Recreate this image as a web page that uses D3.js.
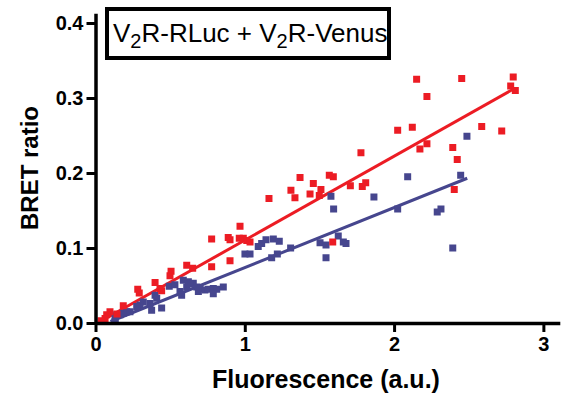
<!DOCTYPE html>
<html>
<head>
<meta charset="utf-8">
<script src="https://cdn.jsdelivr.net/npm/d3@7"></script>
<style>
  body { margin: 0; background: #fff; }
  svg { display: block; font-family: "Liberation Sans", Arial, sans-serif; }
</style>
</head>
<body>
<div class="container"></div>
<script>
// V2R-RLuc + V2R-Venus (red) [fluorescence, BRET]
const redPoints = [
  [2.453, 0.326], [2.798, 0.328], [2.781, 0.316], [2.812, 0.310], [2.587, 0.262],
  [2.721, 0.256], [2.393, 0.234], [2.423, 0.218], [2.403, 0.178], [2.151, 0.325],
  [2.220, 0.302], [2.024, 0.257], [2.122, 0.261], [2.173, 0.232], [2.220, 0.239],
  [1.778, 0.227], [1.566, 0.197], [1.593, 0.195], [1.707, 0.183], [1.787, 0.182],
  [1.810, 0.187], [1.589, 0.108], [1.370, 0.194], [1.459, 0.186], [1.309, 0.177],
  [1.336, 0.167], [1.437, 0.172], [1.510, 0.178], [1.499, 0.170], [1.162, 0.166],
  [0.968, 0.129], [0.778, 0.112], [0.889, 0.114], [0.901, 0.111], [0.963, 0.113],
  [0.990, 0.113], [1.013, 0.110], [1.035, 0.108], [0.901, 0.083], [0.778, 0.075],
  [0.611, 0.077], [0.651, 0.073], [0.506, 0.069], [0.499, 0.063], [0.399, 0.054],
  [0.432, 0.046], [0.443, 0.043], [0.283, 0.045], [0.293, 0.040], [0.186, 0.023],
  [0.097, 0.015], [0.064, 0.006], [0.075, 0.011], [0.037, 0.003], [0.144, 0.012]
];

// second series (blue)
const bluePoints = [
  [2.488, 0.249], [2.446, 0.197], [2.314, 0.152], [2.289, 0.148], [2.393, 0.100],
  [2.091, 0.195], [1.577, 0.169], [1.595, 0.152], [1.865, 0.168], [2.024, 0.152],
  [1.626, 0.116], [1.504, 0.107], [1.544, 0.104], [1.660, 0.108], [1.678, 0.106],
  [1.544, 0.087], [1.191, 0.112], [1.231, 0.109], [1.307, 0.100], [1.218, 0.092],
  [1.180, 0.087], [1.090, 0.102], [1.113, 0.106], [1.142, 0.111], [1.001, 0.092],
  [1.035, 0.092], [0.588, 0.057], [0.622, 0.055], [0.655, 0.053], [0.678, 0.048],
  [0.700, 0.046], [0.733, 0.044], [0.756, 0.045], [0.789, 0.046], [0.812, 0.045],
  [0.856, 0.048], [0.566, 0.042], [0.577, 0.037], [0.689, 0.042], [0.789, 0.039],
  [0.494, 0.049], [0.532, 0.051], [0.399, 0.037], [0.410, 0.033], [0.443, 0.020],
  [0.365, 0.026], [0.376, 0.017], [0.320, 0.028], [0.298, 0.024], [0.276, 0.022],
  [0.231, 0.015], [0.209, 0.015], [0.186, 0.013], [0.164, 0.011], [0.142, 0.011],
  [0.131, 0.006], [0.131, 0.002], [0.611, 0.048], [0.633, 0.052]
];

// fitted lines, end points
const redFit = [[0.05, 0.004], [2.80, 0.312]];
const blueFit = [[0.10, 0.002], [2.49, 0.193]];

const xTicks = [0, 1, 2, 3];
const yTicks = [0, 0.1, 0.2, 0.3, 0.4];

const width = 567;
const height = 397;

const svg = d3.select(".container").append("svg")
  .attr("width", width)
  .attr("height", height);

const x = d3.scaleLinear().domain([0, 3.11]).range([95.5, 559.8]);
const y = d3.scaleLinear().domain([0, 0.413]).range([323, 13.25]);

const red = "#ec1c24";
const blue = "#46468e";

// fit lines
const line = d3.line().x(d => x(d[0])).y(d => y(d[1]));
svg.append("path").datum(redFit)
  .attr("fill", "none").attr("stroke", red).attr("stroke-width", 3).attr("d", line);
svg.append("path").datum(blueFit)
  .attr("fill", "none").attr("stroke", blue).attr("stroke-width", 3).attr("d", line);

const size = 7;
svg.append("g").selectAll("rect")
  .data(bluePoints).enter().append("rect")
  .attr("x", d => x(d[0]) - size / 2)
  .attr("y", d => y(d[1]) - size / 2)
  .attr("width", size).attr("height", size)
  .attr("fill", blue);

svg.append("g").selectAll("rect")
  .data(redPoints).enter().append("rect")
  .attr("x", d => x(d[0]) - size / 2)
  .attr("y", d => y(d[1]) - size / 2)
  .attr("width", size).attr("height", size)
  .attr("fill", red);

// axes
const xAxis = svg.append("g")
  .attr("transform", `translate(0,${y(0)})`)
  .call(d3.axisBottom(x).tickValues(xTicks).tickFormat(d3.format("d")).tickSize(9).tickSizeOuter(0).tickPadding(5));

const yAxis = svg.append("g")
  .attr("transform", `translate(${x(0)},0)`)
  .call(d3.axisLeft(y).tickValues(yTicks).tickFormat(d3.format(".1f")).tickSize(9).tickSizeOuter(0).tickPadding(3));

[xAxis, yAxis].forEach(g => {
  g.select(".domain").attr("stroke", "#000").attr("stroke-width", 3.5);
  g.selectAll(".tick line").attr("stroke", "#000").attr("stroke-width", 3);
  g.selectAll(".tick text")
    .attr("fill", "#000")
    .style("font-size", "20px")
    .style("font-weight", "bold")
    .style("font-family", "'Liberation Sans', Arial, sans-serif");
});

svg.append("text")
  .attr("x", 326).attr("y", 388)
  .attr("text-anchor", "middle")
  .style("font-size", "25px").style("font-weight", "bold")
  .text("Fluorescence (a.u.)");

svg.append("text")
  .attr("transform", "translate(38,168) rotate(-90)")
  .attr("text-anchor", "middle")
  .style("font-size", "24px").style("font-weight", "bold")
  .text("BRET ratio");

// legend box
svg.append("rect")
  .attr("x", 107).attr("y", 9)
  .attr("width", 282).attr("height", 49)
  .attr("fill", "#fff").attr("stroke", "#000").attr("stroke-width", 4);

const title = svg.append("text")
  .attr("x", 113).attr("y", 42)
  .style("font-size", "26px");
title.append("tspan").text("V");
title.append("tspan").attr("dy", 6).style("font-size", "20px").text("2");
title.append("tspan").attr("dy", -6).text("R-RLuc + V");
title.append("tspan").attr("dy", 6).style("font-size", "20px").text("2");
title.append("tspan").attr("dy", -6).text("R-Venus");
</script>
</body>
</html>
